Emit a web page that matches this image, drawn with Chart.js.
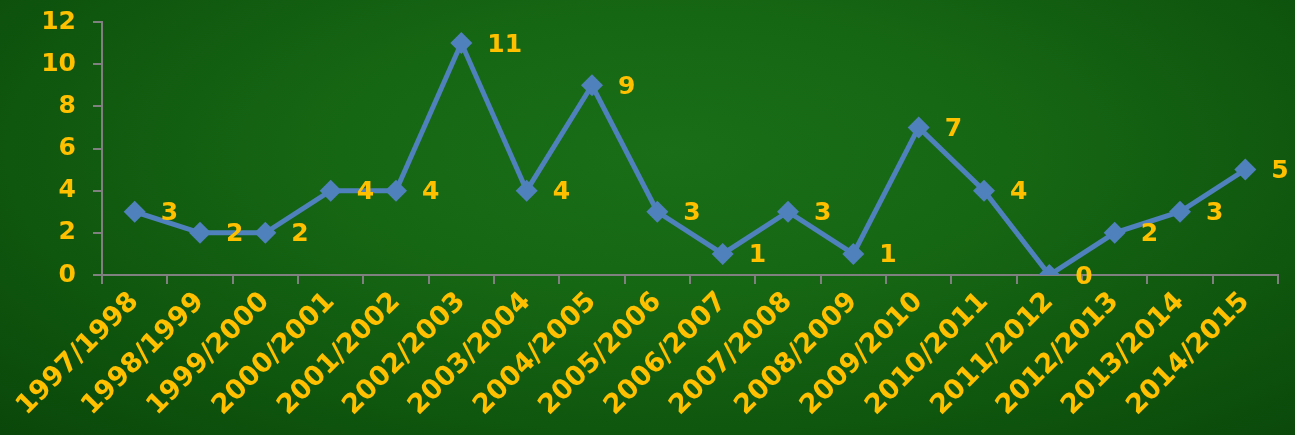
<!DOCTYPE html>
<html>
<head>
<meta charset="utf-8">
<script src="https://cdn.jsdelivr.net/npm/chart.js@4/dist/chart.umd.min.js"></script>
<style>
  html, body { margin: 0; padding: 0; }
  body {
    width: 1295px; height: 435px; overflow: hidden;
    background: radial-gradient(ellipse farthest-corner at 52% 35%, #1a6e17 0%, #166714 35%, #0f560e 70%, #0a470a 100%);
  }
  canvas { display: block; }
</style>
</head>
<body>
<canvas id="c" width="1295" height="435"></canvas>
<script>
const categories = ["1997/1998","1998/1999","1999/2000","2000/2001","2001/2002","2002/2003","2003/2004","2004/2005","2005/2006","2006/2007","2007/2008","2008/2009","2009/2010","2010/2011","2011/2012","2012/2013","2013/2014","2014/2015"];
const values = [3, 2, 2, 4, 4, 11, 4, 9, 3, 1, 3, 1, 7, 4, 0, 2, 3, 5];
const yTicks = [0, 2, 4, 6, 8, 10, 12];

const TEXT = '#FFC000';
const FAMILY = '"DejaVu Sans", Verdana, sans-serif';
const FONT = { family: FAMILY, weight: 'bold', size: 25 };
const YFONT = { family: FAMILY, weight: 'bold', size: 25, lineHeight: 0.4 };
const XFONT = { family: FAMILY, weight: 'bold', size: 27 };

const valueLabels = {
  id: 'valueLabels',
  afterDatasetsDraw(chart) {
    const ctx = chart.ctx;
    const meta = chart.getDatasetMeta(0);
    ctx.save();
    ctx.fillStyle = TEXT;
    ctx.font = `bold ${FONT.size}px ${FAMILY}`;
    ctx.textAlign = 'left';
    ctx.textBaseline = 'middle';
    meta.data.forEach((pt, i) => {
      ctx.fillText(String(values[i]), pt.x + 26, pt.y + 2);
    });
    ctx.restore();
  }
};

new Chart(document.getElementById('c'), {
  type: 'line',
  data: {
    labels: categories,
    datasets: [{
      data: values,
      borderColor: '#4F81BD',
      backgroundColor: '#4F81BD',
      borderWidth: 5,
      pointStyle: 'rectRot',
      pointRadius: 11,
      pointHoverRadius: 11,
      pointBorderWidth: 0,
      tension: 0,
      fill: false
    }]
  },
  options: {
    responsive: false,
    animation: false,
    devicePixelRatio: 1,
    layout: { padding: { left: 38, right: 17, top: 0, bottom: 4 } },
    plugins: { legend: { display: false }, tooltip: { enabled: false } },
    scales: {
      x: {
        offset: true,
        afterFit(axis) { axis.height = 156; },
        border: { color: '#808080', width: 2 },
        grid: { offset: true, drawOnChartArea: false, drawTicks: true, tickLength: 9, color: '#808080', lineWidth: 2 },
        ticks: { color: TEXT, font: XFONT, minRotation: 45, maxRotation: 45, padding: 2, autoSkip: false }
      },
      y: {
        min: 0, max: 12,
        afterFit(axis) { axis.width = 64; },
        border: { color: '#808080', width: 2 },
        grid: { drawOnChartArea: false, drawTicks: true, tickLength: 9, color: '#808080', lineWidth: 2 },
        afterBuildTicks(axis) { axis.ticks = yTicks.map(v => ({ value: v })); },
        ticks: { color: TEXT, font: YFONT, padding: 17 }
      }
    }
  },
  plugins: [valueLabels]
});
</script>
</body>
</html>
